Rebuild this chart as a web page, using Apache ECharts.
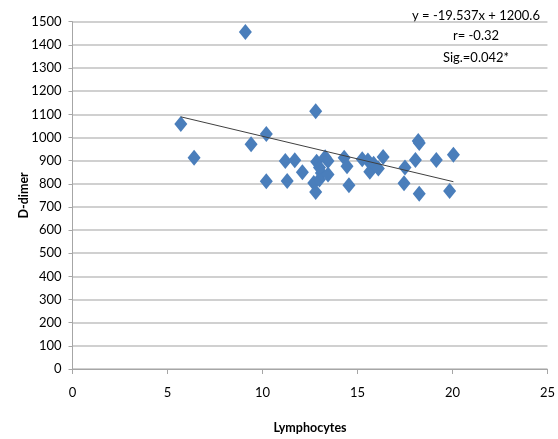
<!DOCTYPE html>
<html>
<head>
<meta charset="utf-8">
<script src="https://cdn.jsdelivr.net/npm/echarts@6/dist/echarts.min.js"></script>
<style>
  html, body { margin: 0; padding: 0; background: #fff; }
  #chart { width: 558px; height: 439px; }
</style>
</head>
<body>
<div id="chart"></div>
<script>
// Lymphocytes (x) vs D-dimer (y)
const lymphocytes = [
  5.7, 6.4, 9.1, 9.4, 10.2, 10.2, 11.2, 11.3, 11.7, 12.1,
  12.8, 12.7, 12.8, 12.85, 13.0, 13.1, 13.3, 13.45, 13.45, 13.0,
  14.3, 14.45, 14.55, 15.25, 15.55, 15.65, 15.85, 16.1, 16.35, 17.5,
  17.45, 18.05, 18.2, 18.25, 18.25, 19.15, 19.85, 20.05
];
const dDimer = [
  1058, 912, 1455, 971, 1015, 811, 898, 812, 902, 850,
  1113, 803, 765, 895, 818, 846, 915, 898, 840, 870,
  912, 876, 794, 906, 900, 852, 886, 866, 916, 870,
  802, 903, 985, 976, 757, 903, 769, 925
];

// linear trend line end points
const trendX = [5.7, 20.05];
const trendY = [1089.2, 808.9];

const equationLines = ['y = -19.537x + 1200.6', 'r= -0.32', 'Sig.=0.042*'];

const labelFont = "Lato, 'Liberation Sans', sans-serif";

const points = lymphocytes.map((x, i) => [x, dDimer[i]]);
const trend = trendX.map((x, i) => [x, trendY[i]]);

const chart = echarts.init(document.getElementById('chart'), null, { renderer: 'canvas' });

chart.setOption({
  backgroundColor: '#ffffff',
  animation: false,
  grid: { left: 72.5, right: 9, top: 21.7, bottom: 62.3, containLabel: false },
  xAxis: {
    type: 'value',
    min: 0,
    max: 25,
    interval: 5,
    name: 'Lymphocytes',
    nameLocation: 'middle',
    nameGap: 52,
    nameMoveOverlap: false,
    nameTextStyle: { fontFamily: labelFont, fontSize: 12.5, fontWeight: 'bold', color: '#000' },
    axisLine: { lineStyle: { color: '#a6a6a6', width: 1 } },
    axisTick: { show: true, length: 5, lineStyle: { color: '#a6a6a6' } },
    axisLabel: { fontFamily: labelFont, fontSize: 13, color: '#000', margin: 17 },
    splitLine: { show: false }
  },
  yAxis: {
    type: 'value',
    min: 0,
    max: 1500,
    interval: 100,
    name: 'D-dimer',
    nameLocation: 'middle',
    nameGap: 42,
    nameMoveOverlap: false,
    nameTextStyle: { fontFamily: labelFont, fontSize: 12.5, fontWeight: 'bold', color: '#000' },
    axisLine: { show: true, lineStyle: { color: '#a6a6a6', width: 1 } },
    axisTick: { show: true, length: 4, lineStyle: { color: '#a6a6a6' } },
    axisLabel: {
      fontFamily: labelFont, fontSize: 13, color: '#000', margin: 11,
      formatter: v => String(v)
    },
    splitLine: { lineStyle: { color: '#c0c0c0', width: 1.5 } }
  },
  series: [
    {
      type: 'scatter',
      data: points,
      symbol: 'diamond',
      symbolSize: [13, 16],
      itemStyle: { color: '#4a7ebb', opacity: 1 },
      z: 3
    },
    {
      type: 'line',
      data: trend,
      symbol: 'none',
      lineStyle: { color: '#404040', width: 1 },
      z: 4
    }
  ],
  graphic: equationLines.map((t, i) => ({
    type: 'text',
    x: 476,
    y: [16, 36, 58][i],
    style: {
      text: t,
      align: 'center',
      verticalAlign: 'middle',
      fontFamily: labelFont,
      fontSize: 13,
      fill: '#000'
    }
  }))
});
</script>
</body>
</html>
